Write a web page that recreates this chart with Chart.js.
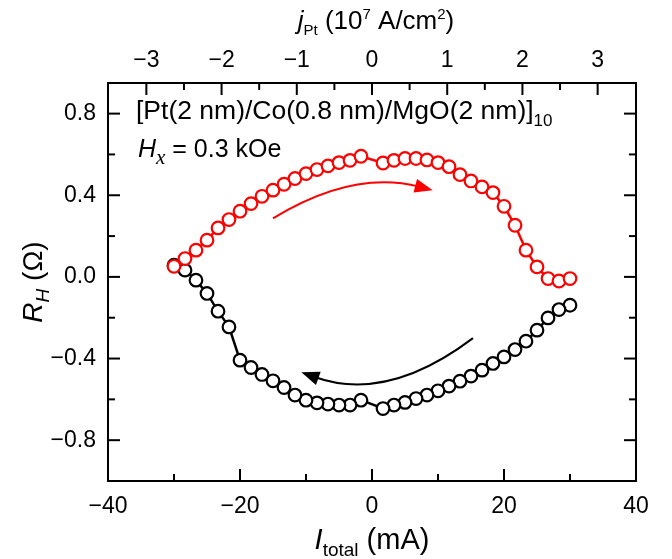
<!DOCTYPE html>
<html>
<head>
<meta charset="utf-8">
<script src="https://cdn.jsdelivr.net/npm/chart.js@4.4.0/dist/chart.umd.min.js"></script>
<style>
  body { margin: 0; background: #fff; }
</style>
</head>
<body>
<canvas id="chart" width="672" height="559"></canvas>
<script>
// current sweep (mA) and Hall resistance (Ohm)
const currentUp = [-30, -28.33, -26.67, -25, -23.33, -21.67, -20, -18.33, -16.67, -15, -13.33, -11.67, -10, -8.33, -6.67, -5, -3.33, -1.67,
                   1.67, 3.33, 5, 6.67, 8.33, 10, 11.67, 13.33, 15, 16.67, 18.33, 20, 21.67, 23.33, 25, 26.67, 28.33, 30];
const rUp = [0.052, 0.090, 0.131, 0.180, 0.240, 0.281, 0.322, 0.359, 0.395, 0.425, 0.454, 0.482, 0.506, 0.526, 0.544, 0.560, 0.571, 0.591,
             0.558, 0.571, 0.580, 0.580, 0.573, 0.560, 0.540, 0.501, 0.470, 0.441, 0.413, 0.346, 0.253, 0.131, 0.049, -0.008, -0.020, -0.008];

const currentDown = [30, 28.33, 26.67, 25, 23.33, 21.67, 20, 18.33, 16.67, 15, 13.33, 11.67, 10, 8.33, 6.67, 5, 3.33, 1.67,
                     -1.67, -3.33, -5, -6.67, -8.33, -10, -11.67, -13.33, -15, -16.67, -18.33, -20, -21.67, -23.33, -25, -26.67, -28.33, -30];
const rDown = [-0.139, -0.160, -0.201, -0.261, -0.315, -0.356, -0.392, -0.424, -0.457, -0.486, -0.511, -0.535, -0.558, -0.579, -0.596, -0.615, -0.628, -0.645,
               -0.604, -0.628, -0.628, -0.623, -0.617, -0.604, -0.579, -0.542, -0.509, -0.478, -0.444, -0.408, -0.245, -0.168, -0.081, -0.016, 0.033, 0.057];

// tick values
const xMajor = [-40, -20, 0, 20, 40];
const xMinor = [-30, -10, 10, 30];
const jMajor = [-3, -2, -1, 0, 1, 2, 3];
const jMinor = [-2.5, -1.5, -0.5, 0.5, 1.5, 2.5];
const yMajor = [-0.8, -0.4, 0, 0.4, 0.8];
const yMinor = [-0.6, -0.2, 0.2, 0.6];

const xRange = [-40, 40];
const jRange = [-3.51, 3.51];
const yRange = [-1.0, 0.95];

// sweep direction arrows, in data units: start, control, tip
const arrowUp = [[-15.0, 0.287], [-2.9, 0.526], [9.2, 0.425]];
const arrowDown = [[15.3, -0.300], [2.3, -0.618], [-10.7, -0.467]];

const SANS = '"Liberation Sans", Arial, sans-serif';
const SERIF = '"Liberation Serif", "Times New Roman", serif';

function minus(s) {
    return String(s).replace('-', '\u2212');
}

function setTicks(values) {
    return function(scale) {
        scale.ticks = values.map(v => ({value: v}));
    };
}

// draw text made of several runs (sub/superscripts)
function drawRuns(ctx, runs, x, y, align) {
    let total = 0;
    runs.forEach(r => {
        ctx.font = r.font;
        r.w = ctx.measureText(r.text).width;
        total += r.w;
    });
    let cx = align === 'center' ? x - total / 2 : x;
    ctx.textAlign = 'left';
    ctx.textBaseline = 'alphabetic';
    runs.forEach(r => {
        ctx.font = r.font;
        ctx.fillText(r.text, cx, y + (r.dy || 0));
        cx += r.w;
    });
}

function drawArrow(ctx, chart, pts, color) {
    const sx = chart.scales.x, sy = chart.scales.y;
    const p = pts.map(q => [sx.getPixelForValue(q[0]), sy.getPixelForValue(q[1])]);
    ctx.save();
    ctx.strokeStyle = color;
    ctx.fillStyle = color;
    ctx.lineWidth = 2;
    let dx = p[2][0] - p[1][0], dy = p[2][1] - p[1][1];
    const len = Math.hypot(dx, dy);
    dx /= len; dy /= len;
    const headL = 18, headW = 7;
    const bx = p[2][0] - dx * headL, by = p[2][1] - dy * headL;
    ctx.beginPath();
    ctx.moveTo(p[0][0], p[0][1]);
    ctx.quadraticCurveTo(p[1][0], p[1][1], bx + dx * 4, by + dy * 4);
    ctx.stroke();
    ctx.beginPath();
    ctx.moveTo(p[2][0], p[2][1]);
    ctx.lineTo(bx - dy * headW, by + dx * headW);
    ctx.lineTo(bx + dy * headW, by - dx * headW);
    ctx.closePath();
    ctx.fill();
    ctx.restore();
}

const decorPlugin = {
    id: 'decor',
    afterDatasetsDraw(chart) {
        const ctx = chart.ctx;
        const a = chart.chartArea;
        const s = chart.scales;
        ctx.save();
        ctx.strokeStyle = '#000';
        ctx.lineWidth = 2;
        //inside ticks
        function tick(scale, values, len, side) {
            values.forEach(v => {
                const p = scale.getPixelForValue(v);
                ctx.beginPath();
                if (side === 'bottom') { ctx.moveTo(p, a.bottom); ctx.lineTo(p, a.bottom - len); }
                if (side === 'top') { ctx.moveTo(p, a.top); ctx.lineTo(p, a.top + len); }
                if (side === 'left') { ctx.moveTo(a.left, p); ctx.lineTo(a.left + len, p); }
                if (side === 'right') { ctx.moveTo(a.right, p); ctx.lineTo(a.right - len, p); }
                ctx.stroke();
            });
        }
        tick(s.x, xMajor, 12, 'bottom');
        tick(s.x, xMinor, 7, 'bottom');
        tick(s.x2, jMajor, 12, 'top');
        tick(s.x2, jMinor, 7, 'top');
        tick(s.y, yMajor, 12, 'left');
        tick(s.y, yMinor, 7, 'left');
        tick(s.y, yMajor, 12, 'right');
        tick(s.y, yMinor, 7, 'right');

        drawArrow(ctx, chart, arrowUp, '#ff0000');
        drawArrow(ctx, chart, arrowDown, '#000000');

        ctx.fillStyle = '#000';
        // axis titles
        drawRuns(ctx, [
            {text: 'I', font: `italic 29px ${SANS}`},
            {text: 'total', font: `19px ${SANS}`, dy: 7},
            {text: ' (mA)', font: `29px ${SANS}`}
        ], (a.left + a.right) / 2, 549, 'center');

        drawRuns(ctx, [
            {text: 'j', font: `italic 26px ${SANS}`},
            {text: 'Pt', font: `15px ${SANS}`, dy: 6},
            {text: ' (10', font: `26px ${SANS}`},
            {text: '7', font: `15px ${SANS}`, dy: -10},
            {text: ' A/cm', font: `26px ${SANS}`},
            {text: '2', font: `15px ${SANS}`, dy: -10},
            {text: ')', font: `26px ${SANS}`}
        ], (a.left + a.right) / 2 + 4, 29, 'center');

        ctx.save();
        ctx.translate(42, (a.top + a.bottom) / 2);
        ctx.rotate(-Math.PI / 2);
        drawRuns(ctx, [
            {text: 'R', font: `italic 28px ${SANS}`},
            {text: 'H', font: `italic 19px ${SANS}`, dy: 7},
            {text: ' (\u03A9)', font: `28px ${SANS}`}
        ], 0, 0, 'center');
        ctx.restore();

        // sample labels
        drawRuns(ctx, [
            {text: '[Pt(2 nm)/Co(0.8 nm)/MgO(2 nm)]', font: `26.5px ${SANS}`},
            {text: '10', font: `17px ${SANS}`, dy: 7}
        ], a.left + 28, a.top + 36, 'left');
        drawRuns(ctx, [
            {text: 'H', font: `italic 25px ${SANS}`},
            {text: 'x', font: `italic 21px ${SERIF}`, dy: 7},
            {text: ' = 0.3 kOe', font: `25px ${SANS}`}
        ], a.left + 30, a.top + 74, 'left');
        ctx.restore();
    }
};

const tickFont = {family: SANS, size: 23};
const border = {display: true, color: '#000', width: 2};

new Chart(document.getElementById('chart'), {
    type: 'line',
    data: {
        datasets: [{
            label: 'up',
            data: currentUp.map((c, i) => ({x: c, y: rUp[i]})),
            borderColor: '#ff0000',
            borderWidth: 2.5,
            pointRadius: 6.3,
            pointBorderWidth: 2.2,
            pointBorderColor: '#ff0000',
            pointBackgroundColor: '#ffffff',
            tension: 0,
            xAxisID: 'x',
            yAxisID: 'y'
        }, {
            label: 'down',
            data: currentDown.map((c, i) => ({x: c, y: rDown[i]})),
            borderColor: '#000000',
            borderWidth: 2.5,
            pointRadius: 6.3,
            pointBorderWidth: 2.2,
            pointBorderColor: '#000000',
            pointBackgroundColor: '#ffffff',
            tension: 0,
            xAxisID: 'x',
            yAxisID: 'y'
        }]
    },
    options: {
        responsive: false,
        animation: false,
        layout: {padding: 0},
        plugins: {legend: {display: false}, tooltip: {enabled: false}},
        scales: {
            x: {
                type: 'linear', position: 'bottom',
                min: xRange[0], max: xRange[1],
                afterBuildTicks: setTicks(xMajor),
                afterFit: scale => { scale.height = 78; },
                grid: {display: false, drawTicks: false},
                border: border,
                ticks: {font: tickFont, color: '#000', padding: 12, maxRotation: 0,
                        callback: v => minus(v)}
            },
            x2: {
                type: 'linear', position: 'top',
                min: jRange[0], max: jRange[1],
                afterBuildTicks: setTicks(jMajor),
                afterFit: scale => { scale.height = 83; },
                grid: {display: false, drawTicks: false},
                border: border,
                ticks: {font: tickFont, color: '#000', padding: 9, maxRotation: 0,
                        callback: v => minus(v)}
            },
            y: {
                type: 'linear', position: 'left',
                min: yRange[0], max: yRange[1],
                afterBuildTicks: setTicks(yMajor),
                afterFit: scale => { scale.width = 108; },
                grid: {display: false, drawTicks: false},
                border: border,
                ticks: {font: tickFont, color: '#000', padding: 12,
                        callback: v => minus(v.toFixed(1))}
            },
            y2: {
                type: 'linear', position: 'right',
                min: yRange[0], max: yRange[1],
                afterFit: scale => { scale.width = 36; },
                grid: {display: false, drawTicks: false},
                border: border,
                ticks: {display: false}
            }
        }
    },
    plugins: [decorPlugin]
});
</script>
</body>
</html>
